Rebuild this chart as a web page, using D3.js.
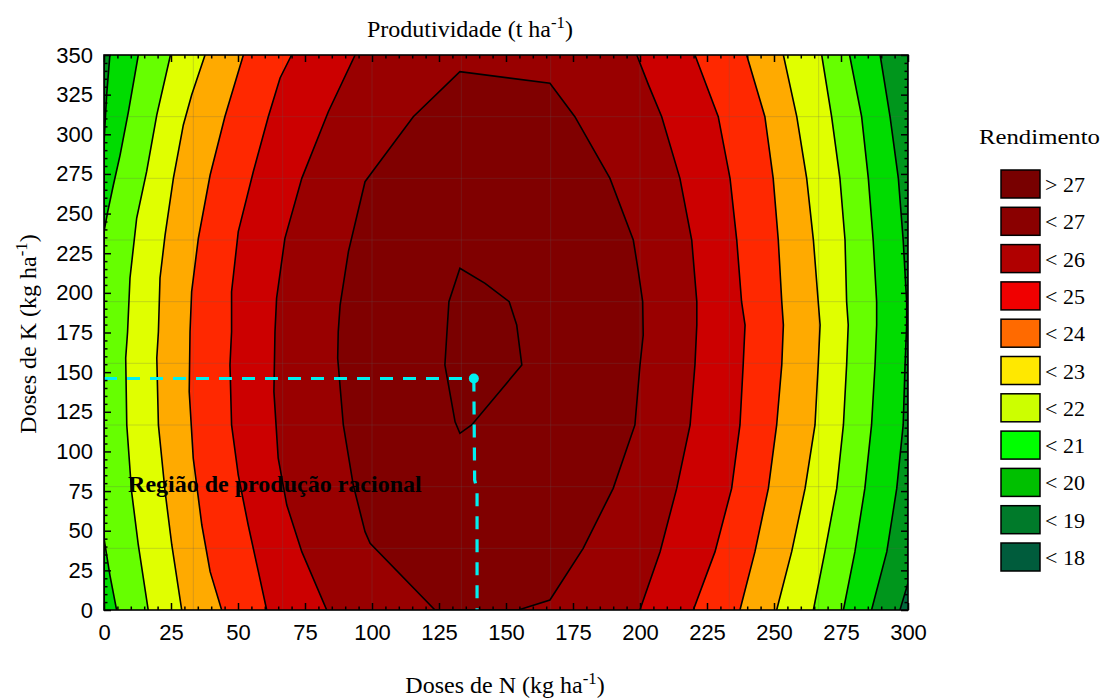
<!DOCTYPE html>
<html>
<head>
<meta charset="utf-8">
<script src="https://cdn.jsdelivr.net/npm/d3@7"></script>
<style>
  body { margin: 0; background: #fff; }
  svg { display: block; }
  .tick text { font-family: "Liberation Sans", Arial, sans-serif; font-size: 22px; fill: #000; }
  .serif { font-family: "Liberation Serif", "Times New Roman", serif; }
</style>
</head>
<body>
<div id="chart"></div>
<script>
// Axes
const xTicks = d3.range(0, 301, 25);
const yTicks = d3.range(0, 351, 25);

// Contour levels and colours of the bands (below 18, 18-19, ..., above 27)
const levels = [18, 19, 20, 21, 22, 23, 24, 25, 26, 27];
const bandColors = ["#006a3c", "#00961c", "#00dc00", "#66ff00", "#e0ff00", "#ffaa00",
                    "#ff2800", "#cc0000", "#990000", "#800000", "#7a0000"];

// Legend
const legendLabels = ["> 27", "< 27", "< 26", "< 25", "< 24", "< 23", "< 22", "< 21", "< 20", "< 19", "< 18"];
const legendColors = ["#780000", "#8a0000", "#b00000", "#f00000", "#ff6a00", "#ffe800",
                      "#ccff00", "#00ff00", "#00c000", "#007a2a", "#005c3c"];

// Contour lines, [N, K], from top (K=350) to bottom (K=0)
const edgeLeft = [[0, 350], [0, 0]];
const right18 = [[300, 350], [300, 17], [297, 0]];

const left19 = [[2.2, 350], [1.0, 325], [0, 295], [0, 0]];
const right19 = [[289.6, 350], [293.3, 311.1], [296.4, 272.2], [298.2, 233.3], [299.5, 194.4], [299.5, 179.7],
                 [298.9, 154.5], [298.2, 116.7], [295.8, 76.7], [292.1, 36.8], [286.4, 0]];

const left20 = [[12.8, 350], [9.1, 314.2], [6.0, 286.9], [3.5, 268], [1.4, 251.2], [0, 238.6],
                [0, 45.2], [2.2, 22], [4.7, 0]];
const right20 = [[278.2, 350], [282.7, 311.1], [285.2, 272.2], [287, 233.3], [288.3, 194.4], [288.3, 179.7],
                 [287.7, 154.5], [286.4, 116.7], [283.9, 76.7], [280.2, 36.8], [275.9, 0]];

const left21 = [[24.8, 350], [19.7, 312.2], [15.9, 276.4], [12.2, 247.2], [9.7, 209.4], [8.8, 175.5],
                [8.1, 158.9], [8.5, 116.7], [10.3, 74.6], [12.8, 41], [16.5, 0]];
const right21 = [[267.8, 350], [271.5, 311.1], [274.6, 272.2], [276.5, 233.3], [277.1, 194.4], [277.7, 179.7],
                 [277.1, 154.5], [275.9, 116.7], [273.4, 76.7], [269, 36.8], [264.7, 0]];

const left22 = [[37.7, 350], [32.7, 324.8], [29.6, 305.9], [25.9, 272.4], [22.8, 236.5], [20.9, 209.4],
                [20.3, 175.5], [19.7, 158.9], [20.3, 116.7], [22.8, 74.6], [25.3, 41], [29, 0]];
const right22 = [[253.5, 350], [258.5, 311.1], [262.2, 272.2], [264.7, 233.3], [266.5, 194.4], [267.2, 179.7],
                 [266.5, 154.5], [265.3, 116.7], [261.6, 76.7], [256.6, 36.8], [251, 0]];

const left23 = [[52, 350], [45.1, 311.1], [39.6, 274.3], [35.2, 234.4], [32.7, 200.7], [32.1, 175.5],
                [31.8, 137.7], [33.3, 95.7], [36.5, 53.6], [39.6, 24.2], [43.9, 0]];
const right23 = [[239.8, 350], [246.6, 311.1], [249.7, 272.2], [251.6, 233.3], [252.9, 194.4], [253.5, 179.7],
                 [252.9, 154.5], [251, 116.7], [247.9, 76.7], [242.9, 36.8], [237.3, 0]];

const left24 = [[70, 350], [65.7, 335.5], [61.3, 311.1], [55.7, 276.4], [50.1, 238.6], [47.6, 200.7],
                [47.6, 175.5], [47, 154.5], [47.6, 116.7], [50.1, 85.1], [53.8, 53.6], [57.6, 24.2], [60.7, 0]];
const right24 = [[220.5, 350], [229.2, 311.1], [233.6, 272.2], [236.1, 233.3], [237.9, 194.4], [239.2, 179.7],
                 [238.5, 154.5], [237.3, 116.7], [234.2, 76.7], [228, 36.8], [219.9, 0]];

const left25 = [[93.7, 350], [83.7, 314.2], [73.8, 272.2], [67.5, 234.4], [64.4, 196.6], [63.8, 175.5],
                [63.4, 137.7], [65, 95.7], [68.2, 66.2], [73.8, 36.8], [83.1, 0]];
const right25 = [[198.8, 350], [203.2, 331], [208.1, 311.1], [214.9, 272.2], [219.3, 233.3], [221.2, 194.4],
                 [221.2, 179.7], [220.5, 154.5], [218.7, 116.7], [213.7, 76.7], [207.5, 36.8], [200.6, 3.2], [200, 0]];

// closed contours
const ring26 = [[123.5, 0], [99.3, 42], [97.4, 49.4], [93, 78.8], [89.3, 116.7], [87.2, 158.7], [87.4, 175.5],
                [88.1, 192.3], [91.2, 226], [97.4, 270.1], [101.1, 278.6], [115.4, 311.1], [132.8, 339.5],
                [166.4, 332.2], [175.7, 311.1], [188.8, 272.2], [197.5, 233.3], [199.4, 213.3], [201, 194.4],
                [201.2, 173.4], [200, 154.5], [198.1, 116.7], [190, 76.7], [178.8, 38.9], [166.4, 6.3], [154.6, 0]];
const ring27 = [[132.8, 215.5], [142.2, 206], [151.2, 194.4], [154, 179.7], [155.9, 154.5], [137.2, 116.7],
                [132.8, 111.4], [131, 118.7], [127.2, 154.5], [127.9, 173.4], [128.7, 194.4]];

// optimum (N, K) and guide line to the N axis
const guideH = [[0, 146], [138, 146]];
const guideV = [[138, 146], [138.3, 82], [139.2, 76], [139.2, 0]];

const bands = [
  { level: 18, left: edgeLeft, right: right18 },
  { level: 19, left: left19, right: right19 },
  { level: 20, left: left20, right: right20 },
  { level: 21, left: left21, right: right21 },
  { level: 22, left: left22, right: right22 },
  { level: 23, left: left23, right: right23 },
  { level: 24, left: left24, right: right24 },
  { level: 25, left: left25, right: right25 }
];
const rings = [{ level: 26, pts: ring26 }, { level: 27, pts: ring27 }];

const width = 1103, height = 698;
const svg = d3.select("#chart").append("svg").attr("width", width).attr("height", height);

const x = d3.scaleLinear().domain([0, 300]).range([104, 908]);
const y = d3.scaleLinear().domain([0, 350]).range([610, 55]);
const line = d3.line().x(d => x(d[0])).y(d => y(d[1]));

svg.append("clipPath").attr("id", "clip")
  .append("rect").attr("x", x(0)).attr("y", y(350)).attr("width", x(300) - x(0)).attr("height", y(0) - y(350));

const plot = svg.append("g").attr("clip-path", "url(#clip)");

// base band (below 18)
plot.append("rect")
  .attr("x", x(0)).attr("y", y(350)).attr("width", x(300) - x(0)).attr("height", y(0) - y(350))
  .attr("fill", bandColors[0]);

bands.forEach(b => {
  const i = levels.indexOf(b.level);
  plot.append("path")
    .attr("d", line(b.left.concat(b.right.slice().reverse())) + "Z")
    .attr("fill", bandColors[i + 1]);
});
rings.forEach(r => {
  const i = levels.indexOf(r.level);
  plot.append("path").attr("d", line(r.pts) + "Z").attr("fill", bandColors[i + 1]);
});

// faint grid of the fitted surface
const gridN = d3.range(1, 9).map(k => k * 300 / 9);
const gridK = d3.range(1, 9).map(k => k * 350 / 9);
plot.selectAll(".gv").data(gridN).enter().append("line")
  .attr("x1", d => x(d)).attr("x2", d => x(d)).attr("y1", y(0)).attr("y2", y(350))
  .attr("stroke", "rgba(90,90,90,0.3)").attr("stroke-width", 0.8);
plot.selectAll(".gh").data(gridK).enter().append("line")
  .attr("y1", d => y(d)).attr("y2", d => y(d)).attr("x1", x(0)).attr("x2", x(300))
  .attr("stroke", "rgba(90,90,90,0.3)").attr("stroke-width", 0.8);

// contour lines
bands.forEach(b => {
  [b.left, b.right].forEach(l => {
    plot.append("path").attr("d", line(l)).attr("fill", "none")
      .attr("stroke", "#000").attr("stroke-width", 1.6);
  });
});
rings.forEach(r => {
  plot.append("path").attr("d", line(r.pts) + "Z").attr("fill", "none")
    .attr("stroke", "#000").attr("stroke-width", 1.6);
});

// annotation
svg.append("text").attr("class", "serif")
  .attr("x", x(9)).attr("y", y(74.5))
  .attr("font-size", 24).attr("font-weight", "bold")
  .text("Região de produção racional");

// guide lines to the optimum
[guideH, guideV].forEach(g => {
  svg.append("path").attr("d", line(g)).attr("fill", "none")
    .attr("stroke", "#00f0f0").attr("stroke-width", 3.2)
    .attr("stroke-dasharray", "13,10");
});
svg.append("circle").attr("cx", x(guideV[0][0])).attr("cy", y(guideV[0][1])).attr("r", 5).attr("fill", "#00f0f0");

// axes with inward ticks
const minorX = d3.range(0, 301, 5).filter(v => v % 25);
const minorY = d3.range(0, 351, 5).filter(v => v % 25);

function styleAxis(g) {
  g.select(".domain").remove();
  g.selectAll(".tick line").attr("stroke", "#000").attr("stroke-width", 1.5);
}

svg.append("g").attr("transform", `translate(0,${y(0)})`)
  .call(d3.axisBottom(x).tickValues(xTicks).tickSizeInner(-7).tickSizeOuter(0).tickPadding(14))
  .call(styleAxis);
svg.append("g").attr("transform", `translate(0,${y(0)})`)
  .call(d3.axisBottom(x).tickValues(minorX).tickSizeInner(-3.5).tickSizeOuter(0).tickFormat(""))
  .call(styleAxis);
svg.append("g").attr("transform", `translate(0,${y(350)})`)
  .call(d3.axisTop(x).tickValues(xTicks).tickSizeInner(-7).tickSizeOuter(0).tickFormat(""))
  .call(styleAxis);
svg.append("g").attr("transform", `translate(0,${y(350)})`)
  .call(d3.axisTop(x).tickValues(minorX).tickSizeInner(-3.5).tickSizeOuter(0).tickFormat(""))
  .call(styleAxis);

svg.append("g").attr("transform", `translate(${x(0)},0)`)
  .call(d3.axisLeft(y).tickValues(yTicks).tickSizeInner(-7).tickSizeOuter(0).tickPadding(11))
  .call(styleAxis);
svg.append("g").attr("transform", `translate(${x(0)},0)`)
  .call(d3.axisLeft(y).tickValues(minorY).tickSizeInner(-3.5).tickSizeOuter(0).tickFormat(""))
  .call(styleAxis);
svg.append("g").attr("transform", `translate(${x(300)},0)`)
  .call(d3.axisRight(y).tickValues(yTicks).tickSizeInner(-7).tickSizeOuter(0).tickFormat(""))
  .call(styleAxis);
svg.append("g").attr("transform", `translate(${x(300)},0)`)
  .call(d3.axisRight(y).tickValues(minorY).tickSizeInner(-3.5).tickSizeOuter(0).tickFormat(""))
  .call(styleAxis);

// frame
svg.append("rect")
  .attr("x", x(0)).attr("y", y(350)).attr("width", x(300) - x(0)).attr("height", y(0) - y(350))
  .attr("fill", "none").attr("stroke", "#000").attr("stroke-width", 1.6);

// titles
function titleWithSup(sel, main, sup, tail) {
  sel.append("tspan").text(main);
  sel.append("tspan").attr("baseline-shift", "super").attr("font-size", "70%").text(sup);
  sel.append("tspan").text(tail);
}
svg.append("text").attr("class", "serif").attr("x", 470).attr("y", 37)
  .attr("text-anchor", "middle").attr("font-size", 24)
  .call(t => titleWithSup(t, "Produtividade (t ha", "-1", ")"));

svg.append("text").attr("class", "serif").attr("x", 505).attr("y", 693)
  .attr("text-anchor", "middle").attr("font-size", 24)
  .call(t => titleWithSup(t, "Doses de N (kg ha", "-1", ")"));

svg.append("text").attr("class", "serif")
  .attr("transform", "translate(36,334) rotate(-90)")
  .attr("text-anchor", "middle").attr("font-size", 24)
  .call(t => titleWithSup(t, "Doses de K (kg ha", "-1", ")"));

// legend
const legend = svg.append("g").attr("transform", "translate(1001,0)");
legend.append("text").attr("class", "serif").attr("x", -22).attr("y", 144)
  .attr("font-size", 20).attr("textLength", 121).attr("lengthAdjust", "spacingAndGlyphs")
  .text("Rendimento");
const items = legend.selectAll(".item").data(legendLabels).enter().append("g")
  .attr("transform", (d, i) => `translate(0,${170 + i * 37.3})`);
items.append("rect").attr("width", 39).attr("height", 28)
  .attr("fill", (d, i) => legendColors[i]).attr("stroke", "#000").attr("stroke-width", 1.5);
items.append("text").attr("class", "serif").attr("x", 44).attr("y", 22)
  .attr("font-size", 22).text(d => d);
</script>
</body>
</html>
